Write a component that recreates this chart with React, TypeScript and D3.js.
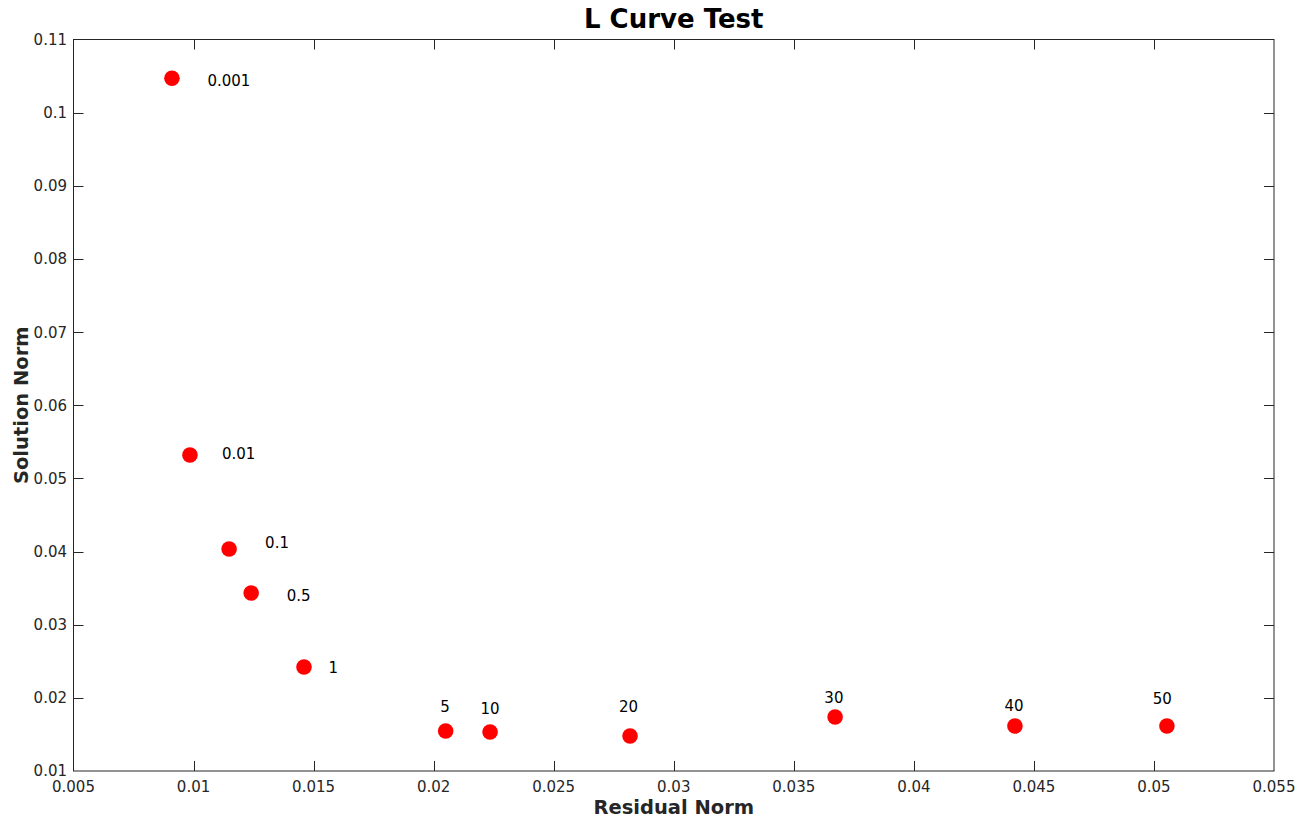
import React, { useEffect, useRef } from 'react'
import * as d3 from 'd3'

// residual norm / solution norm for each lambda
const lambdas = ['0.001', '0.01', '0.1', '0.5', '1', '5', '10', '20', '30', '40', '50']
const residualNorm = [0.0091, 0.00985, 0.01148, 0.0124, 0.0146, 0.0205, 0.02235, 0.02818, 0.03672, 0.04421, 0.05054]
const solutionNorm = [0.1047, 0.0532, 0.04035, 0.03433, 0.02422, 0.01547, 0.01533, 0.01478, 0.01738, 0.01615, 0.01615]
// where each lambda label sits (data units)
const labelX = [0.01058, 0.01118, 0.01298, 0.01388, 0.01562, 0.02047, 0.02235, 0.02812, 0.03667, 0.04417, 0.05035]
const labelY = [0.10433, 0.05343, 0.04121, 0.03392, 0.02412, 0.01879, 0.01857, 0.01879, 0.01998, 0.01889, 0.01984]
const labelCentered = [false, false, false, false, false, true, true, true, true, true, true]

const xTicks = [0.005, 0.01, 0.015, 0.02, 0.025, 0.03, 0.035, 0.04, 0.045, 0.05, 0.055]
const yTicks = [0.01, 0.02, 0.03, 0.04, 0.05, 0.06, 0.07, 0.08, 0.09, 0.1, 0.11]

function App() {
    const ref = useRef<SVGSVGElement>(null)

    useEffect(() => {
        const w = 1311, h = 820
        const left = 73.5, right = 1274, top = 39.5, bottom = 771
        const axisColor = '#262626'
        const font = '"DejaVu Sans", sans-serif'

        const svg = d3.select(ref.current)
        svg.selectAll('*').remove()

        const x = d3.scaleLinear().domain([0.005, 0.055]).range([left, right])
        const y = d3.scaleLinear().domain([0.01, 0.11]).range([bottom, top])

        svg.append('rect')
            .attr('width', w).attr('height', h).attr('fill', '#fff')

        const tickLen = 10
        const g = svg.append('g')

        // ticks inward on all four sides
        xTicks.slice(1, -1).forEach(t => {
            const px = Math.round(x(t)) + 0.5
            g.append('line').attr('x1', px).attr('x2', px).attr('y1', bottom).attr('y2', bottom - tickLen)
                .attr('stroke', axisColor)
            g.append('line').attr('x1', px).attr('x2', px).attr('y1', top).attr('y2', top + tickLen)
                .attr('stroke', axisColor)
        })
        yTicks.slice(1, -1).forEach(t => {
            const py = Math.round(y(t)) + 0.5
            g.append('line').attr('y1', py).attr('y2', py).attr('x1', left).attr('x2', left + tickLen)
                .attr('stroke', axisColor)
            g.append('line').attr('y1', py).attr('y2', py).attr('x1', right).attr('x2', right - tickLen)
                .attr('stroke', axisColor)
        })

        g.append('rect')
            .attr('x', left).attr('y', top)
            .attr('width', right - left).attr('height', bottom - top)
            .attr('fill', 'none').attr('stroke', axisColor)

        // tick labels
        g.selectAll('.xt').data(xTicks).enter().append('text')
            .attr('x', d => x(d)).attr('y', 791.5)
            .attr('text-anchor', 'middle')
            .attr('font-family', font).attr('font-size', 15)
            .attr('fill', axisColor)
            .text(d => String(d))

        g.selectAll('.yt').data(yTicks).enter().append('text')
            .attr('x', 67).attr('y', d => y(d))
            .attr('dy', '0.36em')
            .attr('text-anchor', 'end')
            .attr('font-family', font).attr('font-size', 15)
            .attr('fill', axisColor)
            .text(d => String(d))

        // points
        svg.selectAll('circle').data(lambdas).enter().append('circle')
            .attr('cx', (d, i) => x(residualNorm[i]))
            .attr('cy', (d, i) => y(solutionNorm[i]))
            .attr('r', 7.8)
            .attr('fill', '#ff0000')

        svg.selectAll('.lbl').data(lambdas).enter().append('text')
            .attr('x', (d, i) => x(labelX[i]))
            .attr('y', (d, i) => y(labelY[i]))
            .attr('dy', '0.36em')
            .attr('text-anchor', (d, i) => labelCentered[i] ? 'middle' : 'start')
            .attr('font-family', font).attr('font-size', 15)
            .attr('fill', '#000')
            .text(d => d)

        // title and axis labels
        svg.append('text')
            .attr('x', (left + right) / 2).attr('y', 28)
            .attr('text-anchor', 'middle')
            .attr('font-family', font).attr('font-size', 26).attr('font-weight', 'bold')
            .attr('fill', '#000')
            .text('L Curve Test')

        svg.append('text')
            .attr('x', (left + right) / 2).attr('y', 814)
            .attr('text-anchor', 'middle')
            .attr('font-family', font).attr('font-size', 19.5).attr('font-weight', 'bold')
            .attr('fill', axisColor)
            .text('Residual Norm')

        svg.append('text')
            .attr('transform', 'translate(28,' + (top + bottom) / 2 + ') rotate(-90)')
            .attr('text-anchor', 'middle')
            .attr('font-family', font).attr('font-size', 19.5).attr('font-weight', 'bold')
            .attr('fill', axisColor)
            .text('Solution Norm')
    }, [])

    return (
        <svg ref={ref} width={1311} height={820}
            style={{ position: 'absolute', left: 0, top: 0, display: 'block' }} />
    )
}

export default App
